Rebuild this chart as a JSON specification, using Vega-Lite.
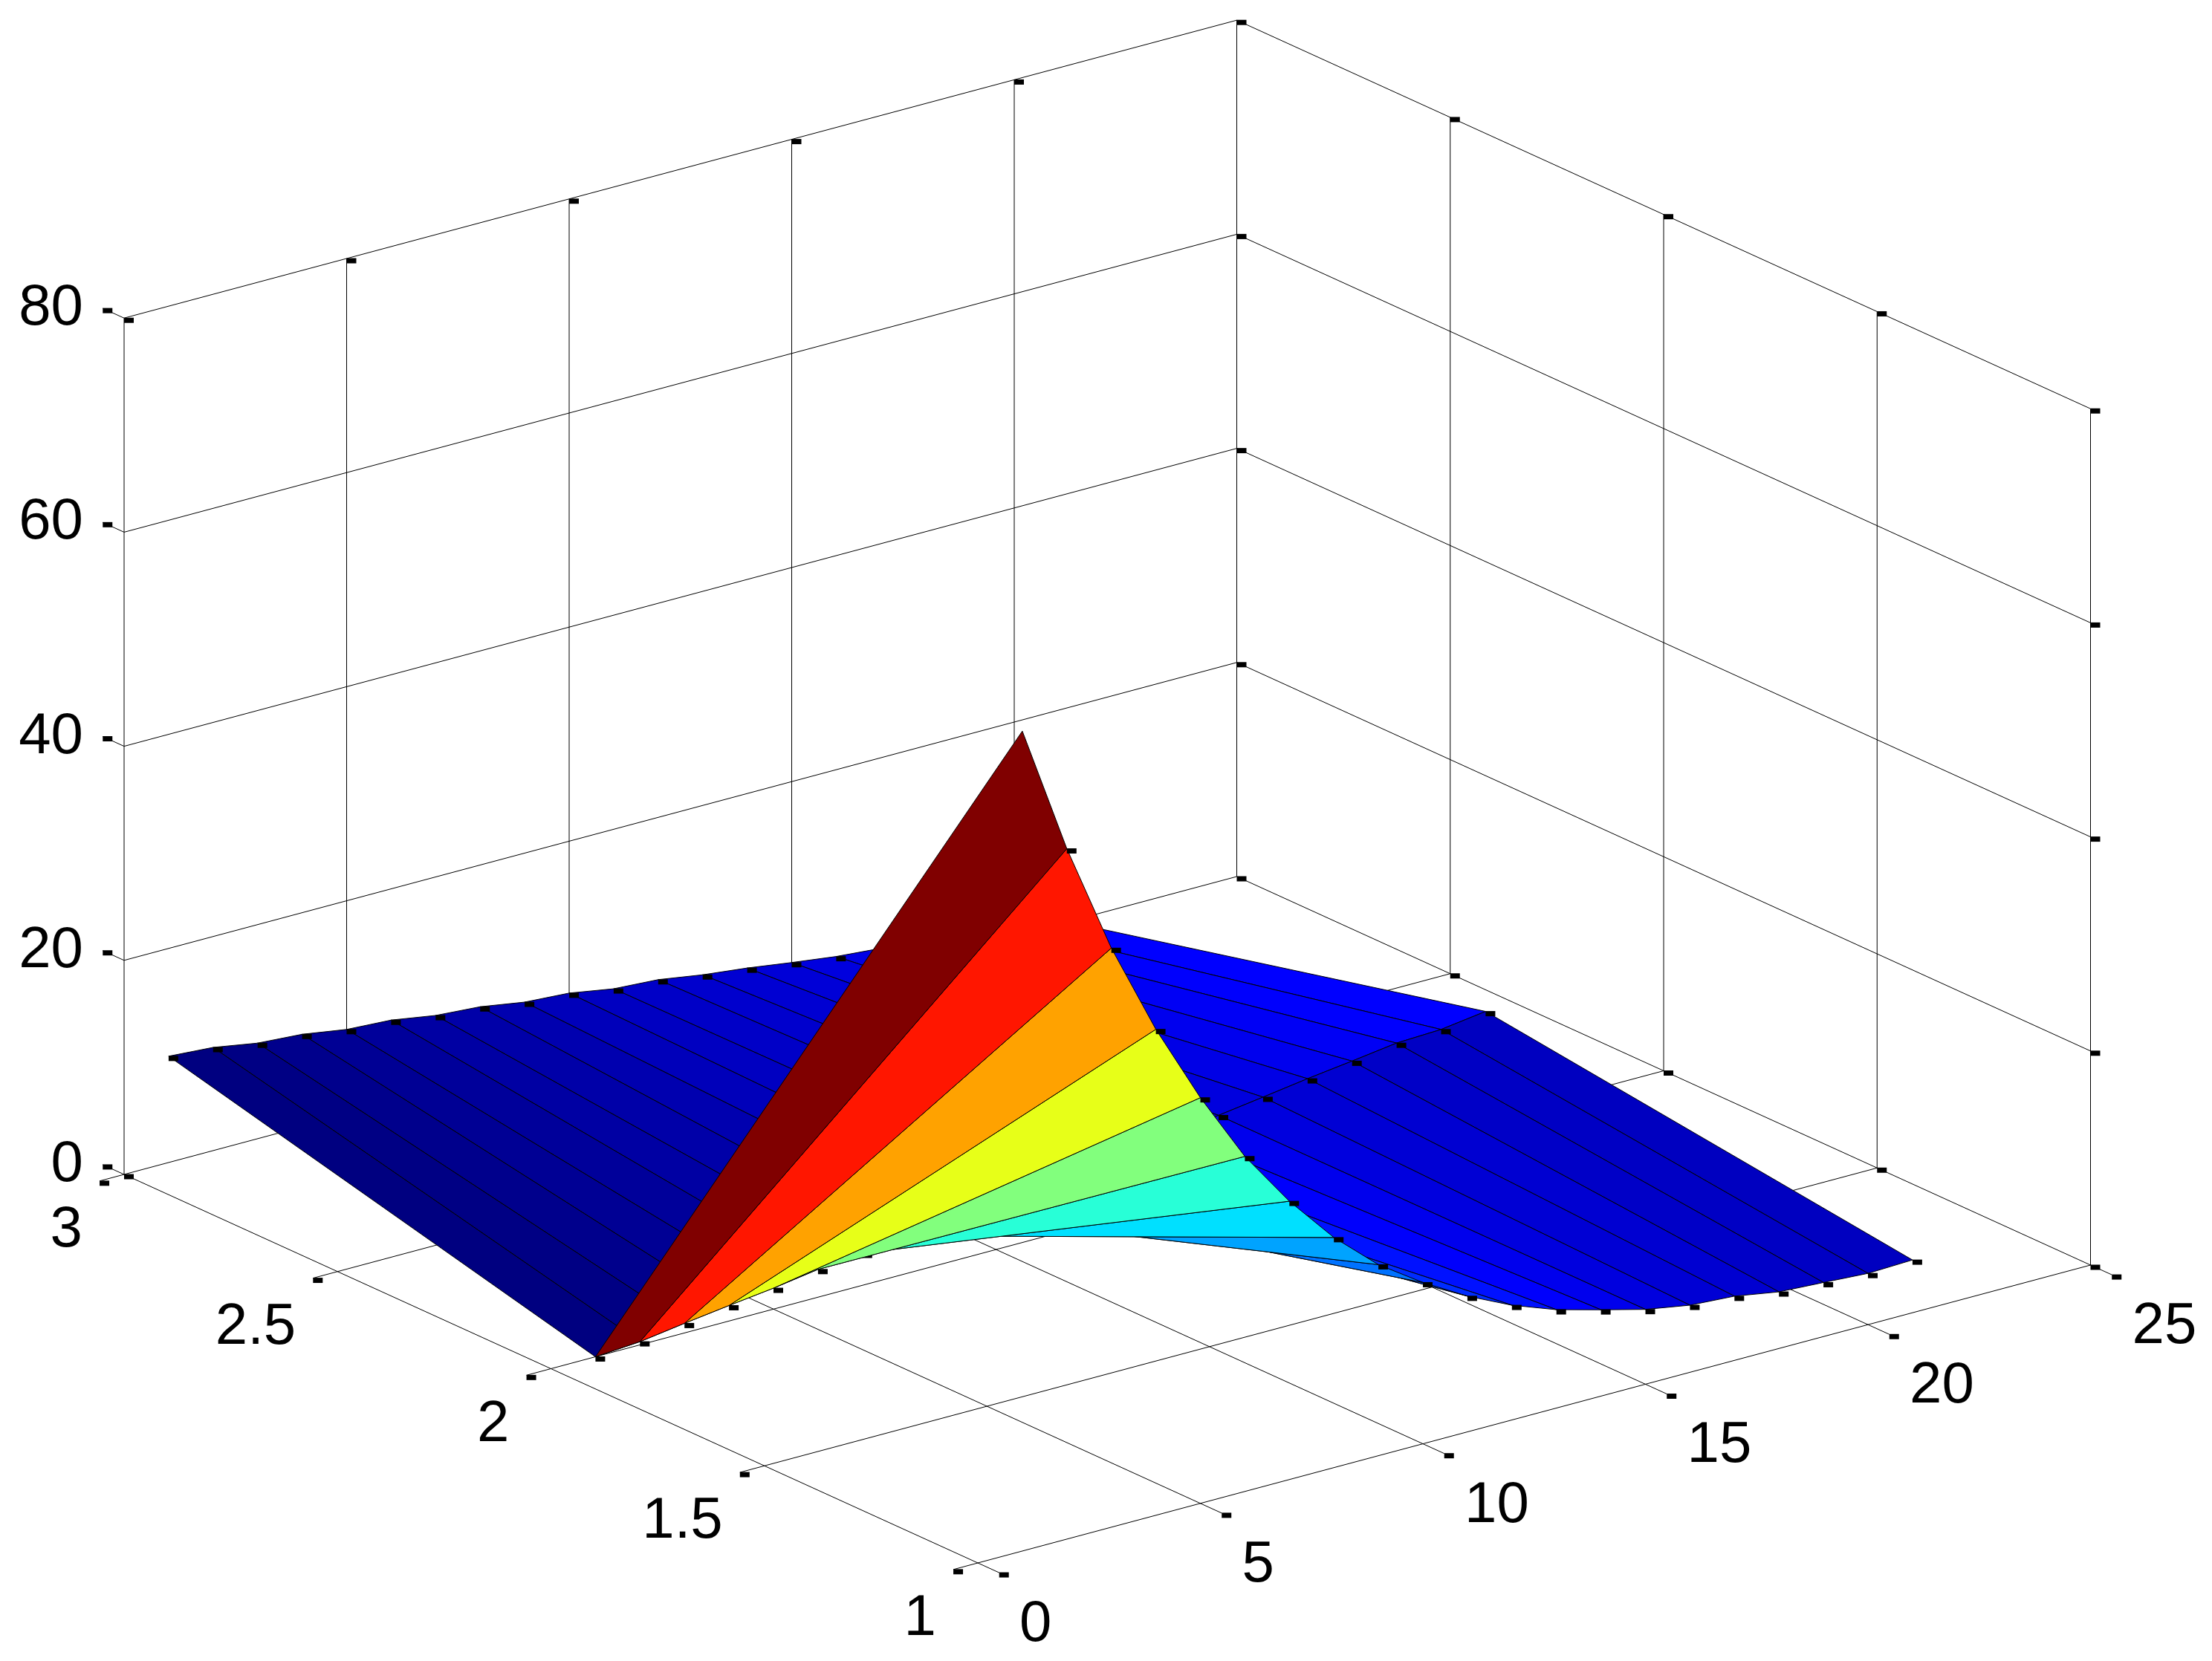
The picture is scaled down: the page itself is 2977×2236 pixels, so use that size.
{
"$schema":"https://vega.github.io/schema/vega-lite/v6.json",
"width":2977,"height":2236,"autosize":{"type":"fit","contains":"padding"},"padding":0,"background":"white",
"config":{"view":{"stroke":null}},
"datasets":{
"quads":[
{"s":"B","x":20,"y":2,"a":9.43,"b":10,"c":0.4,"d":0.8,"e":9.43},
{"s":"B","x":19,"y":2,"a":9.27,"b":9.43,"c":0.8,"d":1.3,"e":9.27},
{"s":"B","x":18,"y":2,"a":8.7,"b":9.27,"c":1.3,"d":1.7,"e":8.7},
{"s":"B","x":17,"y":2,"a":8.17,"b":8.7,"c":1.7,"d":2.2,"e":8.17},
{"s":"B","x":16,"y":2,"a":7.56,"b":8.17,"c":2.2,"d":2.55,"e":7.56},
{"s":"B","x":15,"y":2,"a":6.97,"b":7.56,"c":2.55,"d":3.1,"e":6.97},
{"s":"B","x":14,"y":2,"a":6.5,"b":6.97,"c":3.1,"d":3.7,"e":6.5},
{"s":"B","x":13,"y":2,"a":6.1,"b":6.5,"c":3.7,"d":4.18,"e":6.1},
{"s":"B","x":12,"y":2,"a":5.7,"b":6.1,"c":4.18,"d":4.84,"e":5.7},
{"s":"B","x":11,"y":2,"a":5.3,"b":5.7,"c":4.84,"d":5.1,"e":5.3},
{"s":"B","x":10,"y":2,"a":4.8,"b":5.3,"c":5.1,"d":5.81,"e":4.8},
{"s":"B","x":9,"y":2,"a":4.3,"b":4.8,"c":5.81,"d":6.08,"e":4.3},
{"s":"B","x":8,"y":2,"a":3.5,"b":4.3,"c":6.08,"d":6.76,"e":3.5},
{"s":"B","x":7,"y":2,"a":3,"b":3.5,"c":6.76,"d":7.06,"e":3},
{"s":"B","x":6,"y":2,"a":2.6,"b":3,"c":7.06,"d":7.74,"e":2.6},
{"s":"B","x":5,"y":2,"a":1.96,"b":2.6,"c":7.74,"d":7.98,"e":1.96},
{"s":"B","x":4,"y":2,"a":1.45,"b":1.96,"c":7.98,"d":8.64,"e":1.45},
{"s":"B","x":3,"y":2,"a":0.9,"b":1.45,"c":8.64,"d":8.93,"e":0.9},
{"s":"B","x":2,"y":2,"a":0.3,"b":0.9,"c":8.93,"d":9.64,"e":0.3},
{"s":"B","x":1,"y":2,"a":0,"b":0.3,"c":9.64,"d":9.93,"e":0},
{"s":"A","x":20,"y":1,"a":4.79,"b":4.93,"c":10,"d":9.43,"e":4.79},
{"s":"A","x":19,"y":1,"a":5.05,"b":4.79,"c":9.43,"d":9.27,"e":5.05},
{"s":"A","x":18,"y":1,"a":5.29,"b":5.05,"c":9.27,"d":8.7,"e":5.29},
{"s":"A","x":17,"y":1,"a":6,"b":5.29,"c":8.7,"d":8.17,"e":6},
{"s":"A","x":16,"y":1,"a":6.27,"b":6,"c":8.17,"d":7.56,"e":6.27},
{"s":"A","x":15,"y":1,"a":6.99,"b":6.27,"c":7.56,"d":6.97,"e":6.99},
{"s":"A","x":14,"y":1,"a":8.07,"b":6.99,"c":6.97,"d":6.5,"e":8.07},
{"s":"A","x":13,"y":1,"a":9.19,"b":8.07,"c":6.5,"d":6.1,"e":9.19},
{"s":"A","x":12,"y":1,"a":10.72,"b":9.19,"c":6.1,"d":5.7,"e":10.72},
{"s":"A","x":11,"y":1,"a":12.68,"b":10.72,"c":5.7,"d":5.3,"e":12.68},
{"s":"A","x":10,"y":1,"a":15.07,"b":12.68,"c":5.3,"d":4.8,"e":15.07},
{"s":"A","x":9,"y":1,"a":17.85,"b":15.07,"c":4.8,"d":4.3,"e":17.85},
{"s":"A","x":8,"y":1,"a":21.5,"b":17.85,"c":4.3,"d":3.5,"e":21.5},
{"s":"A","x":7,"y":1,"a":26,"b":21.5,"c":3.5,"d":3,"e":26},
{"s":"A","x":6,"y":1,"a":31.3,"b":26,"c":3,"d":2.6,"e":31.3},
{"s":"A","x":5,"y":1,"a":37.9,"b":31.3,"c":2.6,"d":1.96,"e":37.9},
{"s":"A","x":4,"y":1,"a":45.4,"b":37.9,"c":1.96,"d":1.45,"e":45.4},
{"s":"A","x":3,"y":1,"a":54.1,"b":45.4,"c":1.45,"d":0.9,"e":54.1},
{"s":"A","x":2,"y":1,"a":64.5,"b":54.1,"c":0.9,"d":0.3,"e":64.5},
{"s":"A","x":1,"y":1,"a":76.6,"b":64.5,"c":0.3,"d":0,"e":76.6}
],
"grid":[
{"x0":0,"y0":0.95,"z0":0,"x1":0,"y1":3,"z1":0},
{"x0":5,"y0":0.95,"z0":0,"x1":5,"y1":3,"z1":0},
{"x0":10,"y0":0.95,"z0":0,"x1":10,"y1":3,"z1":0},
{"x0":15,"y0":0.95,"z0":0,"x1":15,"y1":3,"z1":0},
{"x0":20,"y0":0.95,"z0":0,"x1":20,"y1":3,"z1":0},
{"x0":25,"y0":0.95,"z0":0,"x1":25,"y1":3,"z1":0},
{"x0":-0.55,"y0":1,"z0":0,"x1":25,"y1":1,"z1":0},
{"x0":-0.55,"y0":1.5,"z0":0,"x1":25,"y1":1.5,"z1":0},
{"x0":-0.55,"y0":2,"z0":0,"x1":25,"y1":2,"z1":0},
{"x0":-0.55,"y0":2.5,"z0":0,"x1":25,"y1":2.5,"z1":0},
{"x0":-0.55,"y0":3,"z0":0,"x1":25,"y1":3,"z1":0},
{"x0":0,"y0":3,"z0":0,"x1":0,"y1":3,"z1":80},
{"x0":5,"y0":3,"z0":0,"x1":5,"y1":3,"z1":80},
{"x0":10,"y0":3,"z0":0,"x1":10,"y1":3,"z1":80},
{"x0":15,"y0":3,"z0":0,"x1":15,"y1":3,"z1":80},
{"x0":20,"y0":3,"z0":0,"x1":20,"y1":3,"z1":80},
{"x0":25,"y0":3,"z0":0,"x1":25,"y1":3,"z1":80},
{"x0":25,"y0":2.5,"z0":0,"x1":25,"y1":2.5,"z1":80},
{"x0":25,"y0":2,"z0":0,"x1":25,"y1":2,"z1":80},
{"x0":25,"y0":1.5,"z0":0,"x1":25,"y1":1.5,"z1":80},
{"x0":25,"y0":1,"z0":0,"x1":25,"y1":1,"z1":80},
{"x0":0,"y0":3,"z0":20,"x1":25,"y1":3,"z1":20},
{"x0":0,"y0":3,"z0":40,"x1":25,"y1":3,"z1":40},
{"x0":0,"y0":3,"z0":60,"x1":25,"y1":3,"z1":60},
{"x0":0,"y0":3,"z0":80,"x1":25,"y1":3,"z1":80},
{"x0":25,"y0":1,"z0":20,"x1":25,"y1":3,"z1":20},
{"x0":25,"y0":1,"z0":40,"x1":25,"y1":3,"z1":40},
{"x0":25,"y0":1,"z0":60,"x1":25,"y1":3,"z1":60},
{"x0":25,"y0":1,"z0":80,"x1":25,"y1":3,"z1":80},
{"x0":0,"y0":3,"z0":0,"x1":0,"y1":3.05,"z1":0},
{"x0":0,"y0":3,"z0":20,"x1":0,"y1":3.05,"z1":20},
{"x0":0,"y0":3,"z0":40,"x1":0,"y1":3.05,"z1":40},
{"x0":0,"y0":3,"z0":60,"x1":0,"y1":3.05,"z1":60},
{"x0":0,"y0":3,"z0":80,"x1":0,"y1":3.05,"z1":80}
],
"frameMarks":[
{"x":0,"y":3,"z":80},{"x":5,"y":3,"z":80},{"x":10,"y":3,"z":80},{"x":15,"y":3,"z":80},{"x":20,"y":3,"z":80},{"x":25,"y":3,"z":80},
{"x":25,"y":2.5,"z":80},{"x":25,"y":2,"z":80},{"x":25,"y":1.5,"z":80},{"x":25,"y":1,"z":80},
{"x":25,"y":3,"z":0},{"x":25,"y":2.5,"z":0},{"x":25,"y":2,"z":0},{"x":25,"y":1.5,"z":0},{"x":25,"y":1,"z":0},
{"x":25,"y":1,"z":20},{"x":25,"y":1,"z":40},{"x":25,"y":1,"z":60},
{"x":25,"y":3,"z":20},{"x":25,"y":3,"z":40},{"x":25,"y":3,"z":60},
{"x":0,"y":3,"z":0},
{"x":0,"y":0.95,"z":0},{"x":5,"y":0.95,"z":0},{"x":10,"y":0.95,"z":0},{"x":15,"y":0.95,"z":0},{"x":20,"y":0.95,"z":0},{"x":25,"y":0.95,"z":0},
{"x":-0.55,"y":1,"z":0},{"x":-0.55,"y":1.5,"z":0},{"x":-0.55,"y":2,"z":0},{"x":-0.55,"y":2.5,"z":0},{"x":-0.55,"y":3,"z":0},
{"x":0,"y":3.05,"z":0},{"x":0,"y":3.05,"z":20},{"x":0,"y":3.05,"z":40},{"x":0,"y":3.05,"z":60},{"x":0,"y":3.05,"z":80}
],
"underMarks":[
{"x":1,"y":3,"z":9.93},{"x":2,"y":3,"z":9.64},{"x":3,"y":3,"z":8.93},{"x":4,"y":3,"z":8.64},{"x":5,"y":3,"z":7.98},{"x":6,"y":3,"z":7.74},{"x":7,"y":3,"z":7.06},{"x":8,"y":3,"z":6.76},{"x":9,"y":3,"z":6.08},{"x":10,"y":3,"z":5.81},{"x":11,"y":3,"z":5.1},{"x":12,"y":3,"z":4.84},{"x":13,"y":3,"z":4.18},{"x":14,"y":3,"z":3.7},{"x":15,"y":3,"z":3.1},{"x":16,"y":3,"z":2.55},{"x":17,"y":3,"z":2.2},{"x":18,"y":3,"z":1.7},{"x":19,"y":3,"z":1.3},{"x":20,"y":3,"z":0.8},{"x":21,"y":3,"z":0.4},
{"x":7,"y":2,"z":3},{"x":8,"y":2,"z":3.5},{"x":9,"y":2,"z":4.3},{"x":10,"y":2,"z":4.8},{"x":11,"y":2,"z":5.3},{"x":12,"y":2,"z":5.7},{"x":13,"y":2,"z":6.1},{"x":14,"y":2,"z":6.5}
],
"overMarks":[
{"x":1,"y":2,"z":0},{"x":2,"y":2,"z":0.3},{"x":3,"y":2,"z":0.9},{"x":4,"y":2,"z":1.45},{"x":5,"y":2,"z":1.96},{"x":6,"y":2,"z":2.6},
{"x":15,"y":2,"z":6.97},{"x":16,"y":2,"z":7.56},{"x":17,"y":2,"z":8.17},{"x":18,"y":2,"z":8.7},{"x":19,"y":2,"z":9.27},{"x":20,"y":2,"z":9.43},{"x":21,"y":2,"z":10},
{"x":2,"y":1,"z":64.5},{"x":3,"y":1,"z":54.1},{"x":4,"y":1,"z":45.4},{"x":5,"y":1,"z":37.9},{"x":6,"y":1,"z":31.3},{"x":7,"y":1,"z":26},{"x":8,"y":1,"z":21.5},{"x":9,"y":1,"z":17.85},{"x":10,"y":1,"z":15.07},{"x":11,"y":1,"z":12.68},{"x":12,"y":1,"z":10.72},{"x":13,"y":1,"z":9.19},{"x":14,"y":1,"z":8.07},{"x":15,"y":1,"z":6.99},{"x":16,"y":1,"z":6.27},{"x":17,"y":1,"z":6},{"x":18,"y":1,"z":5.29},{"x":19,"y":1,"z":5.05},{"x":20,"y":1,"z":4.79},{"x":21,"y":1,"z":4.93}
],
"zLabels":[{"t":"0","x":0,"y":3,"z":0},{"t":"20","x":0,"y":3,"z":20},{"t":"40","x":0,"y":3,"z":40},{"t":"60","x":0,"y":3,"z":60},{"t":"80","x":0,"y":3,"z":80}],
"yLabels":[{"t":"1","x":0,"y":1,"z":0},{"t":"1.5","x":0,"y":1.5,"z":0},{"t":"2","x":0,"y":2,"z":0},{"t":"2.5","x":0,"y":2.5,"z":0},{"t":"3","x":0,"y":3,"z":0}],
"xLabels":[{"t":"0","x":0,"y":1,"z":0},{"t":"5","x":5,"y":1,"z":0},{"t":"10","x":10,"y":1,"z":0},{"t":"15","x":15,"y":1,"z":0},{"t":"20","x":20,"y":1,"z":0},{"t":"25","x":25,"y":1,"z":0}]
},
"layer":[
{"data":{"name":"grid"},
 "transform":[
  {"calculate":"1316+59.9*datum.x0-574.5*(datum.y0-1)","as":"sx0"},
  {"calculate":"2104-16.04*datum.x0-261.5*(datum.y0-1)-14.41*datum.z0","as":"sy0"},
  {"calculate":"1316+59.9*datum.x1-574.5*(datum.y1-1)","as":"sx1"},
  {"calculate":"2104-16.04*datum.x1-261.5*(datum.y1-1)-14.41*datum.z1","as":"sy1"}],
 "mark":{"type":"rule","stroke":"#000000","strokeWidth":1},
 "encoding":{
  "x":{"field":"sx0","type":"quantitative","scale":{"domain":[0,2977],"nice":false,"zero":false},"axis":null},
  "y":{"field":"sy0","type":"quantitative","scale":{"domain":[2236,0],"nice":false,"zero":false},"axis":null},
  "x2":{"field":"sx1"},"y2":{"field":"sy1"}}},
{"data":{"name":"frameMarks"},
 "transform":[{"calculate":"1316+59.9*datum.x-574.5*(datum.y-1)","as":"sx"},{"calculate":"2104-16.04*datum.x-261.5*(datum.y-1)-14.41*datum.z","as":"sy"}],
 "mark":{"type":"tick","orient":"horizontal","size":13,"thickness":7,"xOffset":6.5,"yOffset":3,"color":"#000000","opacity":1},
 "encoding":{"x":{"field":"sx","type":"quantitative","axis":null},"y":{"field":"sy","type":"quantitative","axis":null}}},
{"data":{"name":"quads"},
 "transform":[{"filter":"datum.s=='B'"},{"calculate":"datum.s+datum.x","as":"q"},{"fold":["a","b","c","d","e"]},
  {"calculate":"(datum.key=='b'||datum.key=='c')?datum.x+1:datum.x","as":"vx"},
  {"calculate":"(datum.key=='c'||datum.key=='d')?datum.y+1:datum.y","as":"vy"},
  {"calculate":"1316+59.9*datum.vx-574.5*(datum.vy-1)","as":"sx"},
  {"calculate":"2104-16.04*datum.vx-261.5*(datum.vy-1)-14.41*datum.value","as":"sy"}],
 "mark":{"type":"line","stroke":"#000000","strokeWidth":1,"strokeJoin":"round"},
 "encoding":{
  "x":{"field":"sx","type":"quantitative","axis":null},
  "y":{"field":"sy","type":"quantitative","axis":null},
  "detail":{"field":"q"},
  "order":{"field":"key"},
  "fill":{"field":"a","type":"quantitative","legend":null,"scale":{"domain":[0,9.44,28.3,47.2,66.1,75.5],"range":["#000080","#0000ff","#00ffff","#ffff00","#ff0000","#800000"],"interpolate":"rgb","clamp":true}}}},
{"data":{"name":"underMarks"},
 "transform":[{"calculate":"1316+59.9*datum.x-574.5*(datum.y-1)","as":"sx"},{"calculate":"2104-16.04*datum.x-261.5*(datum.y-1)-14.41*datum.z","as":"sy"}],
 "mark":{"type":"tick","orient":"horizontal","size":13,"thickness":7,"xOffset":6.5,"yOffset":3,"color":"#000000","opacity":1},
 "encoding":{"x":{"field":"sx","type":"quantitative","axis":null},"y":{"field":"sy","type":"quantitative","axis":null}}},
{"data":{"name":"quads"},
 "transform":[{"filter":"datum.s=='A'"},{"calculate":"datum.s+datum.x","as":"q"},{"fold":["a","b","c","d","e"]},
  {"calculate":"(datum.key=='b'||datum.key=='c')?datum.x+1:datum.x","as":"vx"},
  {"calculate":"(datum.key=='c'||datum.key=='d')?datum.y+1:datum.y","as":"vy"},
  {"calculate":"1316+59.9*datum.vx-574.5*(datum.vy-1)","as":"sx"},
  {"calculate":"2104-16.04*datum.vx-261.5*(datum.vy-1)-14.41*datum.value","as":"sy"}],
 "mark":{"type":"line","stroke":"#000000","strokeWidth":1,"strokeJoin":"round"},
 "encoding":{
  "x":{"field":"sx","type":"quantitative","axis":null},
  "y":{"field":"sy","type":"quantitative","axis":null},
  "detail":{"field":"q"},
  "order":{"field":"key"},
  "fill":{"field":"a","type":"quantitative","legend":null}}},
{"data":{"name":"overMarks"},
 "transform":[{"calculate":"1316+59.9*datum.x-574.5*(datum.y-1)","as":"sx"},{"calculate":"2104-16.04*datum.x-261.5*(datum.y-1)-14.41*datum.z","as":"sy"}],
 "mark":{"type":"tick","orient":"horizontal","size":13,"thickness":7,"xOffset":6.5,"yOffset":3,"color":"#000000","opacity":1},
 "encoding":{"x":{"field":"sx","type":"quantitative","axis":null},"y":{"field":"sy","type":"quantitative","axis":null}}},
{"data":{"name":"zLabels"},
 "transform":[{"calculate":"1316+59.9*datum.x-574.5*(datum.y-1)","as":"sx"},{"calculate":"2104-16.04*datum.x-261.5*(datum.y-1)-14.41*datum.z","as":"sy"}],
 "mark":{"type":"text","font":"Liberation Sans","fontSize":78,"align":"right","baseline":"middle","dx":-55,"dy":-14,"color":"#000000"},
 "encoding":{"x":{"field":"sx","type":"quantitative","axis":null},"y":{"field":"sy","type":"quantitative","axis":null},"text":{"field":"t"}}},
{"data":{"name":"yLabels"},
 "transform":[{"calculate":"1316+59.9*datum.x-574.5*(datum.y-1)","as":"sx"},{"calculate":"2104-16.04*datum.x-261.5*(datum.y-1)-14.41*datum.z","as":"sy"}],
 "mark":{"type":"text","font":"Liberation Sans","fontSize":78,"align":"right","baseline":"middle","dx":-56,"dy":74,"color":"#000000"},
 "encoding":{"x":{"field":"sx","type":"quantitative","axis":null},"y":{"field":"sy","type":"quantitative","axis":null},"text":{"field":"t"}}},
{"data":{"name":"xLabels"},
 "transform":[{"calculate":"1316+59.9*datum.x-574.5*(datum.y-1)","as":"sx"},{"calculate":"2104-16.04*datum.x-261.5*(datum.y-1)-14.41*datum.z","as":"sy"}],
 "mark":{"type":"text","font":"Liberation Sans","fontSize":78,"align":"left","baseline":"middle","dx":56,"dy":82,"color":"#000000"},
 "encoding":{"x":{"field":"sx","type":"quantitative","axis":null},"y":{"field":"sy","type":"quantitative","axis":null},"text":{"field":"t"}}}
]
}
